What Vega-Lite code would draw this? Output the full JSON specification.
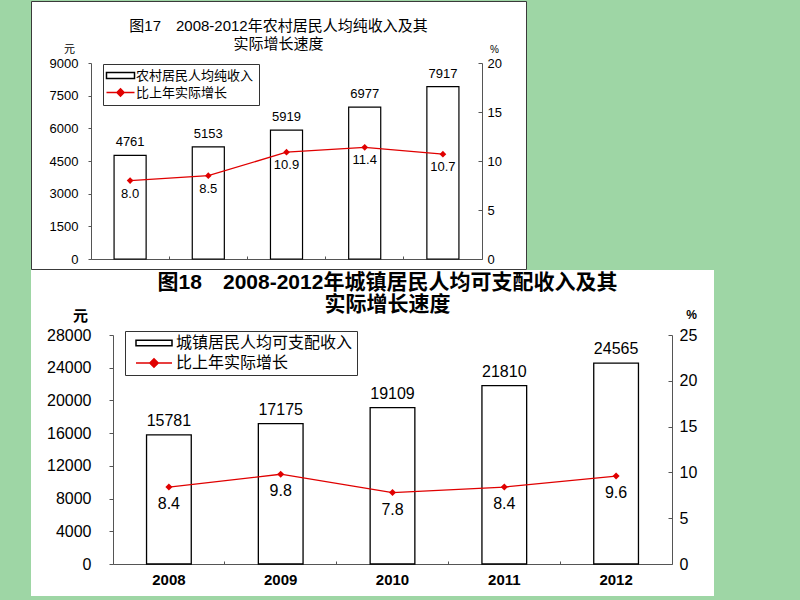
{
  "$schema": "https://vega.github.io/schema/vega-lite/v6.json",
  "background": "#9ed6a5",
  "padding": {"left": 30, "top": 0, "right": 87, "bottom": 6},
  "spacing": 0,
  "config": {
    "font": "'Liberation Sans', 'Noto Sans CJK SC', sans-serif",
    "axis": {"grid": false, "labelColor": "black", "titleColor": "black", "domainColor": "#555", "tickColor": "#555", "labelFont": "'Liberation Sans', 'Noto Sans CJK SC', sans-serif", "titleFont": "'Liberation Sans', 'Noto Sans CJK SC', sans-serif"},
    "legend": {"labelFont": "'Liberation Sans', 'Noto Sans CJK SC', sans-serif", "labelColor": "black", "labelLimit": 400},
    "text": {"font": "'Liberation Sans', 'Noto Sans CJK SC', sans-serif", "color": "black"}
  },
  "resolve": {"scale": {"fill": "independent", "stroke": "independent", "shape": "independent", "x": "independent", "y": "independent"}, "legend": {"fill": "independent", "stroke": "independent", "shape": "independent"}},
  "vconcat": [
    {
      "width": 495,
      "height": 268,
      "view": {"fill": "white", "stroke": "#3a3a3a", "strokeWidth": 1},
      "title": {"text": ["图17　2008-2012年农村居民人均纯收入及其", "实际增长速度"], "anchor": "middle", "frame": "group", "orient": "top", "offset": -51, "baseline": "top", "lineHeight": 18, "fontSize": 15, "fontWeight": "normal", "color": "black"},
      "data": {"values": [
        {"year": "2008", "income": 4761, "growth": 8.0},
        {"year": "2009", "income": 5153, "growth": 8.5},
        {"year": "2010", "income": 5919, "growth": 10.9},
        {"year": "2011", "income": 6977, "growth": 11.4},
        {"year": "2012", "income": 7917, "growth": 10.7}
      ]},
      "encoding": {
        "x": {"field": "year", "type": "ordinal", "scale": {"range": [60, 451], "paddingInner": 0, "paddingOuter": 0},
          "axis": {"title": null, "labels": false, "orient": "bottom", "offset": -10, "tickSize": -3, "bandPosition": 0}}
      },
      "layer": [
        {
          "encoding": {"y": {"field": "income", "type": "quantitative", "scale": {"domain": [0, 9000], "range": [258, 62], "nice": false},
            "axis": {"orient": "left", "offset": -60, "values": [0, 1500, 3000, 4500, 6000, 7500, 9000], "format": "d", "title": "元", "titleAngle": 0, "titleX": -22, "titleY": 48, "titleAlign": "center", "titleBaseline": "middle", "titleFontSize": 11, "titleFontWeight": "normal", "labelFontSize": 13, "labelPadding": 10, "tickSize": 3}}},
          "layer": [
            {"transform": [{"calculate": "'农村居民人均纯收入'", "as": "s"}],
             "mark": {"type": "bar", "width": {"band": 0.41}, "strokeWidth": 1.2},
             "encoding": {
               "fill": {"field": "s", "type": "nominal",
                 "scale": {"domain": ["农村居民人均纯收入", "比上年实际增长"], "range": ["white", "#e00000"]},
                 "legend": {"orient": "none", "legendX": 72, "legendY": 63, "title": null, "strokeColor": "#333", "fillColor": "white", "padding": 5, "symbolSize": 36, "symbolOffset": 6, "labelOffset": 9, "labelFontSize": 13, "rowPadding": 2, "symbolStrokeWidth": 1.5}},
               "stroke": {"field": "s", "type": "nominal",
                 "scale": {"domain": ["农村居民人均纯收入", "比上年实际增长"], "range": ["black", "#e00000"]},
                 "legend": {"orient": "none", "legendX": 72, "legendY": 63, "title": null, "strokeColor": "#333", "fillColor": "white", "padding": 5, "symbolSize": 36, "symbolOffset": 6, "labelOffset": 9, "labelFontSize": 13, "rowPadding": 2, "symbolStrokeWidth": 1.5}}
             }},
            {"mark": {"type": "text", "baseline": "middle", "dy": -13, "fontSize": 13},
             "encoding": {"text": {"field": "income", "type": "quantitative", "format": "d"}}}
          ]
        },
        {
          "encoding": {"y": {"field": "growth", "type": "quantitative", "scale": {"domain": [0, 20], "range": [258, 62], "nice": false},
            "axis": {"orient": "right", "offset": -44, "values": [0, 5, 10, 15, 20], "title": "%", "titleAngle": 0, "titleX": 12, "titleY": 48, "titleAlign": "center", "titleBaseline": "middle", "titleFontSize": 10, "titleFontWeight": "normal", "labelFontSize": 13, "labelPadding": 9, "tickSize": -4}}},
          "layer": [
            {"mark": {"type": "line", "color": "#e00000", "strokeWidth": 1.3}, "encoding": {}},
            {"mark": {"type": "point", "shape": "diamond", "filled": true, "color": "#e00000", "size": 45, "opacity": 1}, "encoding": {}},
            {"transform": [{"calculate": "'比上年实际增长'", "as": "s"}],
             "mark": {"type": "point", "opacity": 0, "size": 1},
             "encoding": {"shape": {"field": "s", "type": "nominal",
               "scale": {"domain": ["农村居民人均纯收入", "比上年实际增长"], "range": ["M-4.67,-1H4.67V1H-4.67Z", "M-4.67,0H4.67M0,-1.2L1.2,0L0,1.2L-1.2,0Z"]},
               "legend": {"orient": "none", "legendX": 72, "legendY": 63, "title": null, "strokeColor": "#333", "fillColor": "white", "padding": 5, "symbolSize": 36, "symbolOffset": 6, "labelOffset": 9, "labelFontSize": 13, "rowPadding": 2, "symbolStrokeWidth": 1.5, "symbolOpacity": 1}}}},
            {"mark": {"type": "text", "baseline": "middle", "dy": 13, "fontSize": 13},
             "encoding": {"text": {"field": "growth", "type": "quantitative", "format": ".1f"}}}
          ]
        }
      ],
      "resolve": {"scale": {"y": "independent"}}
    },
    {
      "width": 683,
      "height": 326,
      "view": {"fill": "white", "stroke": null},
      "title": {"text": ["图18　2008-2012年城镇居民人均可支配收入及其", "实际增长速度"], "anchor": "middle", "frame": "group", "orient": "top", "offset": -45, "dx": 15, "baseline": "top", "lineHeight": 22, "fontSize": 21, "fontWeight": "bold", "color": "black"},
      "data": {"values": [
        {"year": "2008", "income": 15781, "growth": 8.4},
        {"year": "2009", "income": 17175, "growth": 9.8},
        {"year": "2010", "income": 19109, "growth": 7.8},
        {"year": "2011", "income": 21810, "growth": 8.4},
        {"year": "2012", "income": 24565, "growth": 9.6}
      ]},
      "encoding": {
        "x": {"field": "year", "type": "ordinal", "scale": {"range": [82, 641], "paddingInner": 0, "paddingOuter": 0},
          "axis": {"title": null, "orient": "bottom", "offset": -32, "tickSize": -3, "bandPosition": 0, "labelAngle": 0, "labelFontSize": 15, "labelFontWeight": "bold", "labelPadding": 11}}
      },
      "layer": [
        {
          "encoding": {"y": {"field": "income", "type": "quantitative", "scale": {"domain": [0, 28000], "range": [294, 65], "nice": false},
            "axis": {"orient": "left", "offset": -82, "values": [0, 4000, 8000, 12000, 16000, 20000, 24000, 28000], "format": "d", "title": "元", "titleAngle": 0, "titleX": -33, "titleY": 45, "titleAlign": "center", "titleBaseline": "middle", "titleFontSize": 15, "titleFontWeight": "bold", "labelFontSize": 16, "labelPadding": 18, "tickSize": 4}}},
          "layer": [
            {"transform": [{"calculate": "'城镇居民人均可支配收入'", "as": "s"}],
             "mark": {"type": "bar", "width": {"band": 0.4}, "strokeWidth": 1.3},
             "encoding": {
               "fill": {"field": "s", "type": "nominal",
                 "scale": {"domain": ["城镇居民人均可支配收入", "比上年实际增长"], "range": ["white", "#e00000"]},
                 "legend": {"orient": "none", "legendX": 94, "legendY": 61, "title": null, "strokeColor": "#333", "fillColor": "white", "padding": 4, "symbolSize": 36, "symbolOffset": 17, "labelOffset": 14, "labelFontSize": 16, "rowPadding": 4, "symbolStrokeWidth": 1.5}},
               "stroke": {"field": "s", "type": "nominal",
                 "scale": {"domain": ["城镇居民人均可支配收入", "比上年实际增长"], "range": ["black", "#e00000"]},
                 "legend": {"orient": "none", "legendX": 94, "legendY": 61, "title": null, "strokeColor": "#333", "fillColor": "white", "padding": 4, "symbolSize": 36, "symbolOffset": 17, "labelOffset": 14, "labelFontSize": 16, "rowPadding": 4, "symbolStrokeWidth": 1.5}}
             }},
            {"mark": {"type": "text", "baseline": "middle", "dy": -14, "fontSize": 16},
             "encoding": {"text": {"field": "income", "type": "quantitative", "format": "d"}}}
          ]
        },
        {
          "encoding": {"y": {"field": "growth", "type": "quantitative", "scale": {"domain": [0, 25], "range": [294, 65], "nice": false},
            "axis": {"orient": "right", "offset": -42, "values": [0, 5, 10, 15, 20, 25], "title": "%", "titleAngle": 0, "titleX": 19, "titleY": 44, "titleAlign": "center", "titleBaseline": "middle", "titleFontSize": 12, "titleFontWeight": "bold", "labelFontSize": 16, "labelPadding": 11, "tickSize": -4}}},
          "layer": [
            {"mark": {"type": "line", "color": "#e00000", "strokeWidth": 1.3}, "encoding": {}},
            {"mark": {"type": "point", "shape": "diamond", "filled": true, "color": "#e00000", "size": 50, "opacity": 1}, "encoding": {}},
            {"transform": [{"calculate": "'比上年实际增长'", "as": "s"}],
             "mark": {"type": "point", "opacity": 0, "size": 1},
             "encoding": {"shape": {"field": "s", "type": "nominal",
               "scale": {"domain": ["城镇居民人均可支配收入", "比上年实际增长"], "range": ["M-6,-0.9H6V0.9H-6Z", "M-6,0H6M0,-1.4L1.4,0L0,1.4L-1.4,0Z"]},
               "legend": {"orient": "none", "legendX": 94, "legendY": 61, "title": null, "strokeColor": "#333", "fillColor": "white", "padding": 4, "symbolSize": 36, "symbolOffset": 17, "labelOffset": 14, "labelFontSize": 16, "rowPadding": 4, "symbolStrokeWidth": 1.5, "symbolOpacity": 1}}}},
            {"mark": {"type": "text", "baseline": "middle", "dy": 17, "fontSize": 16},
             "encoding": {"text": {"field": "growth", "type": "quantitative", "format": ".1f"}}}
          ]
        }
      ],
      "resolve": {"scale": {"y": "independent"}}
    }
  ]
}
